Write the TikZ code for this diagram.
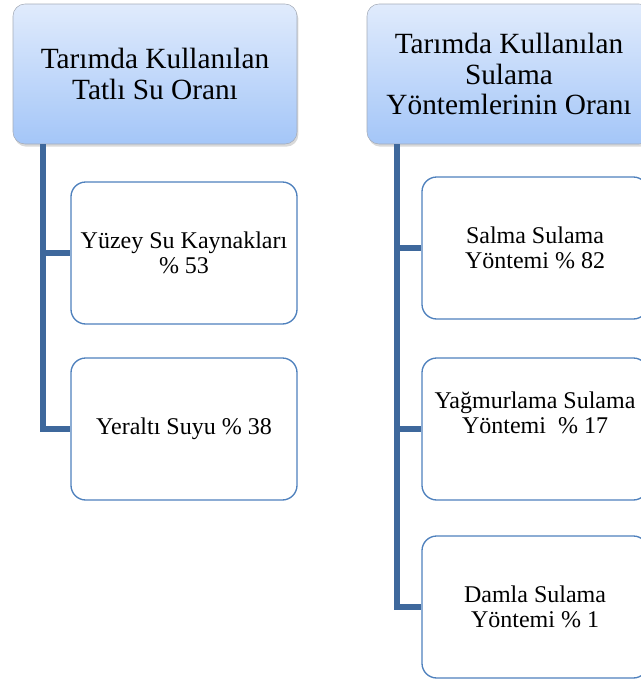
\documentclass[tikz,border=0pt]{standalone}
\usepackage{fontspec}
\setmainfont{Liberation Serif}
\usetikzlibrary{shadows}
\definecolor{hdrtop}{RGB}{224,235,252}
\definecolor{hdrbot}{RGB}{164,198,248}
\definecolor{hdrline}{RGB}{165,172,184}
\definecolor{trunkcol}{RGB}{62,104,156}
\definecolor{boxline}{RGB}{79,129,189}

\begin{document}
\begin{tikzpicture}[x=0.75pt,y=-0.75pt,
  hdr/.style={draw=hdrline, rounded corners=9pt, top color=hdrtop, bottom color=hdrbot,
    minimum width=213pt, minimum height=105pt, align=center,
    font=\fontsize{22}{23}\selectfont,
    drop shadow={opacity=0.3, shadow xshift=1pt, shadow yshift=-2pt}},
  leaf/.style={draw=boxline, line width=1pt, fill=white, rounded corners=11pt,
    minimum width=169.5pt, minimum height=106.5pt, align=center,
    font=\fontsize{18}{19}\selectfont},
  branch/.style={draw=trunkcol, line width=4pt}]
  \useasboundingbox (0,0) rectangle (640,679);

  % left column
  \node[hdr] (tatli) at (155,74) {Tarımda Kullanılan\\Tatlı Su Oranı};
  \node[leaf] (yuzey) at (184,253) {Yüzey Su Kaynakları\\\% 53};
  \node[leaf] (yeralti) at (184,429) {Yeraltı Suyu \% 38};
  \coordinate (trunkL) at (43,144);
  \draw[branch] (trunkL) |- (yuzey.west);
  \draw[branch] (trunkL) |- (yeralti.west);

  % right column
  \node[hdr] (yontem) at (509,74) {Tarımda Kullanılan\\Sulama\\Yöntemlerinin Oranı};
  \node[leaf] (salma) at (535,248) {Salma Sulama\\Yöntemi \% 82};
  \node[leaf] (yagmur) at (535,429) {Yağmurlama Sulama\\Yöntemi~ \% 17\\ \strut};
  \node[leaf] (damla) at (535,607) {Damla Sulama\\Yöntemi \% 1};
  \coordinate (trunkR) at (397,144);
  \draw[branch] (trunkR) |- (salma.west);
  \draw[branch] (trunkR) |- (yagmur.west);
  \draw[branch] (trunkR) |- (damla.west);
\end{tikzpicture}
\end{document}
